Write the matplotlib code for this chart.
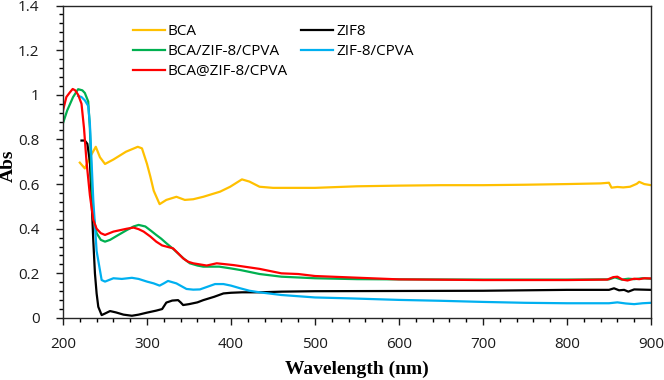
import numpy as np
import matplotlib
matplotlib.use("Agg")
import matplotlib.pyplot as plt
from matplotlib.ticker import MultipleLocator, FuncFormatter

# BCA
bca_x = [220, 226, 232, 239, 244, 250, 260, 275, 289, 294, 300, 304, 308, 315, 323, 335, 345, 355, 367,
         387, 399, 413, 422, 434, 450, 500, 550, 600, 650, 700, 750, 800, 840, 850, 853, 860, 867,
         875, 883, 886, 892, 900]
bca_y = [0.696, 0.67, 0.72, 0.767, 0.72, 0.69, 0.71, 0.745, 0.767, 0.76, 0.69, 0.633, 0.57, 0.51, 0.529,
         0.543, 0.529, 0.532, 0.543, 0.566, 0.588, 0.621, 0.611, 0.588, 0.583, 0.583, 0.59, 0.593,
         0.595, 0.595, 0.597, 0.6, 0.603, 0.606, 0.584, 0.587, 0.585, 0.588, 0.601, 0.61, 0.6, 0.595]

# ZIF8
zif8_x = [222, 226, 229, 232, 234, 236, 238, 240, 242, 246, 250, 256, 263, 272, 282, 290, 300, 311, 318,
          323, 330, 337, 340, 343, 350, 360, 367, 380, 391, 400, 413, 434, 460, 500, 600, 700, 800,
          850, 856, 862, 868, 873, 880, 890, 900]
zif8_y = [0.795, 0.795, 0.78, 0.70, 0.53, 0.35, 0.2, 0.11, 0.05, 0.013, 0.02, 0.031, 0.025, 0.015, 0.01,
          0.015, 0.024, 0.033, 0.04, 0.069, 0.078, 0.08, 0.07, 0.058, 0.062, 0.07, 0.08, 0.095, 0.11,
          0.113, 0.115, 0.115, 0.118, 0.12, 0.121, 0.122, 0.126, 0.126, 0.133, 0.124, 0.126, 0.118,
          0.128, 0.127, 0.126]

# BCA/ZIF-8/CPVA
bzc_x = [200, 205, 212, 218, 223, 226, 230, 232, 234, 236, 240, 245, 250, 256, 265, 276, 284, 290, 298,
         305, 311, 317, 323, 331, 339, 345, 351, 360, 367, 386, 400, 411, 434, 460, 500, 550, 600,
         700, 800, 850, 857, 865, 873, 880, 890, 900]
bzc_y = [0.873, 0.93, 0.99, 1.025, 1.02, 1.008, 0.97, 0.85, 0.62, 0.46, 0.38, 0.35, 0.342, 0.35, 0.37,
         0.394, 0.41, 0.417, 0.41, 0.39, 0.372, 0.355, 0.335, 0.31, 0.282, 0.262, 0.245, 0.235, 0.23,
         0.23, 0.222, 0.215, 0.197, 0.185, 0.178, 0.174, 0.173, 0.172, 0.172, 0.173, 0.182, 0.172,
         0.176, 0.174, 0.178, 0.176]

# ZIF-8/CPVA
zc_x = [218, 222, 226, 230, 232, 234, 236, 240, 246, 250, 260, 270, 282, 290, 300, 308, 315, 320, 325,
        335, 347, 355, 363, 372, 381, 391, 400, 411, 422, 434, 460, 500, 540, 600, 650, 700, 750, 800,
        850, 860, 870, 880, 890, 900]
zc_y = [0.995, 0.99, 0.975, 0.95, 0.87, 0.70, 0.53, 0.30, 0.17, 0.163, 0.178, 0.175, 0.18, 0.175, 0.163,
        0.155, 0.145, 0.155, 0.166, 0.155, 0.13, 0.127, 0.128, 0.14, 0.152, 0.152, 0.145, 0.133, 0.122,
        0.115, 0.103, 0.092, 0.088, 0.081, 0.077, 0.072, 0.068, 0.066, 0.066, 0.07, 0.065, 0.062, 0.066,
        0.068]

# BCA@ZIF-8/CPVA
bazc_x = [200, 204, 208, 211.5, 214.5, 218, 222, 225, 228, 232, 236, 240, 245, 250, 260, 276, 284, 290,
          296, 304, 311, 318, 323, 331, 337, 343, 349, 355, 371, 383, 403, 434, 460, 480, 500, 540, 600,
          700, 800, 848, 855, 860, 866, 872, 880, 886, 892, 900]
bazc_y = [0.93, 0.99, 1.01, 1.026, 1.02, 1.0, 0.96, 0.85, 0.70, 0.55, 0.44, 0.40, 0.38, 0.372, 0.387, 0.40,
          0.405, 0.398, 0.387, 0.365, 0.342, 0.325, 0.32, 0.312, 0.29, 0.267, 0.252, 0.245, 0.235, 0.245,
          0.237, 0.22, 0.2, 0.197, 0.188, 0.182, 0.173, 0.17, 0.17, 0.172, 0.183, 0.185, 0.172, 0.168,
          0.176, 0.174, 0.178, 0.177]

plt.rcParams['font.family'] = ['Open Sans', 'DejaVu Sans']

fig = plt.figure(figsize=(6.64, 3.80), dpi=100)
ax = fig.add_axes([0.0949, 0.1632, 0.8855, 0.8223])

lw = 1.6
l1, = ax.plot(bca_x, bca_y, color='#FFC000', lw=lw, label='BCA')
l2, = ax.plot(zif8_x, zif8_y, color='black', lw=lw, label='ZIF8')
l3, = ax.plot(bzc_x, bzc_y, color='#00B050', lw=lw, label='BCA/ZIF-8/CPVA')
l4, = ax.plot(zc_x, zc_y, color='#00B0F0', lw=lw, label='ZIF-8/CPVA')
l5, = ax.plot(bazc_x, bazc_y, color='#FF0000', lw=lw, label='BCA@ZIF-8/CPVA')

ax.set_xlim(200, 900)
ax.set_ylim(0, 1.4)
ax.xaxis.set_major_locator(MultipleLocator(100))
ax.xaxis.set_minor_locator(MultipleLocator(20))
ax.yaxis.set_major_locator(MultipleLocator(0.2))
ax.yaxis.set_minor_locator(MultipleLocator(0.04))
ax.yaxis.set_major_formatter(FuncFormatter(lambda v, p: '%g' % round(v, 2)))
ax.tick_params(which='major', length=5, width=1, labelsize=11, colors='#1a1a1a')
ax.tick_params(axis='y', which='major', pad=12)
ax.tick_params(axis='x', which='major', pad=9)
ax.tick_params(which='minor', length=3, width=1)
for s in ax.spines.values():
    s.set_color('#262626')
    s.set_linewidth(1)

ax.set_xlabel('Wavelength (nm)', fontfamily='Liberation Serif', fontweight='bold', fontsize=14, labelpad=6)
ax.set_ylabel('Abs', fontfamily='Liberation Serif', fontweight='bold', fontsize=14)
ax.yaxis.set_label_coords(-0.079, 0.486)

ax.legend([l1, l3, l5, l2, l4], ['BCA', 'BCA/ZIF-8/CPVA', 'BCA@ZIF-8/CPVA', 'ZIF8', 'ZIF-8/CPVA'],
          ncol=2, frameon=False, fontsize=11, loc='upper left', bbox_to_anchor=(0.095, 0.985),
          handlelength=2.1, handletextpad=0.2, columnspacing=0.85, labelspacing=0.33)

fig.savefig('out.png', dpi=100)
